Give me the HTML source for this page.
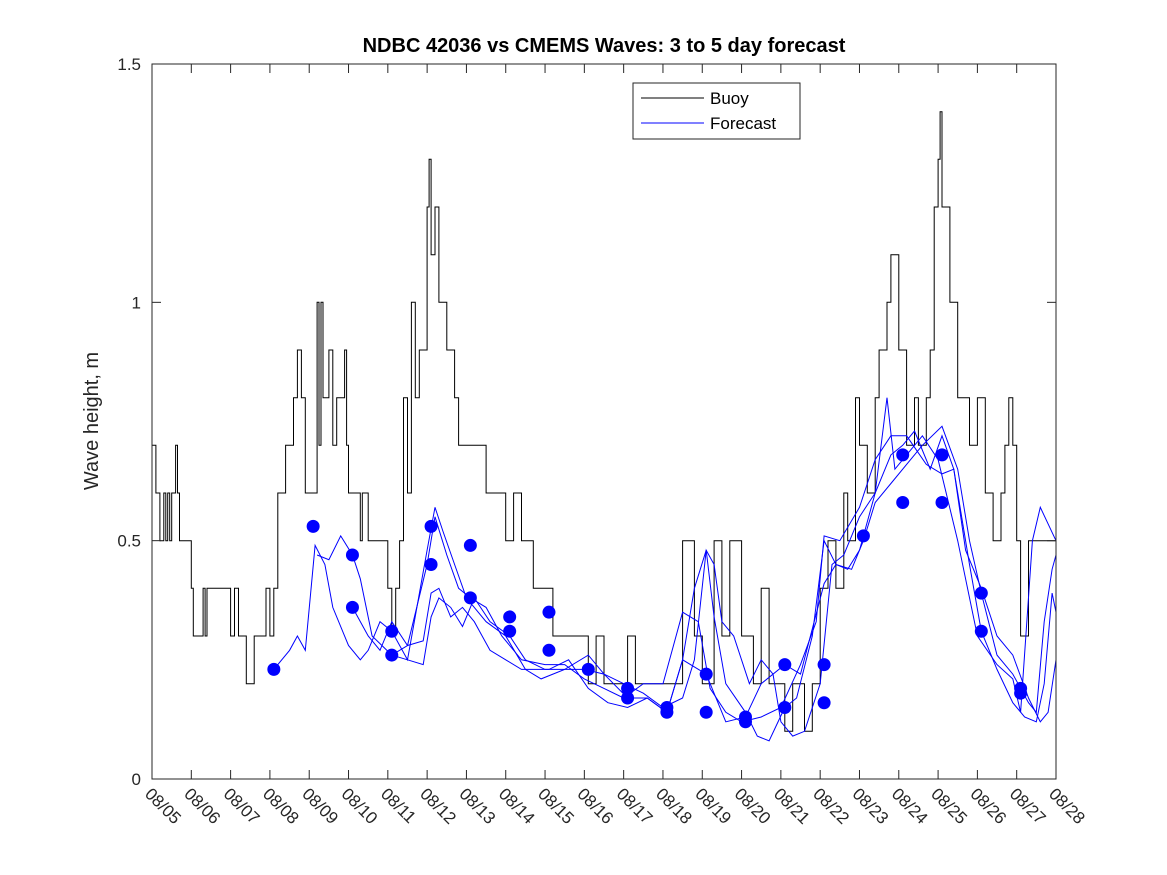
<!DOCTYPE html>
<html><head><meta charset="utf-8"><style>
body{margin:0;background:#fff;}
svg{display:block;font-family:"Liberation Sans",sans-serif;}
</style></head><body>
<svg id="c" width="1167" height="875"></svg>
<script>
const xTickLabels=["08/05","08/06","08/07","08/08","08/09","08/10","08/11","08/12","08/13","08/14","08/15","08/16","08/17","08/18","08/19","08/20","08/21","08/22","08/23","08/24","08/25","08/26","08/27","08/28"];
const yTicks=[0,0.5,1,1.5];
const yTickLabels=["0","0.5","1","1.5"];
const buoyDays=[0,0.1,0.2,0.3,0.35,0.4,0.45,0.5,0.6,0.65,0.7,0.9,1.0,1.05,1.3,1.35,1.4,2.0,2.1,2.2,2.4,2.45,2.6,2.7,2.9,3.0,3.1,3.2,3.4,3.6,3.7,3.8,3.9,4.0,4.2,4.25,4.3,4.35,4.5,4.6,4.7,4.9,4.95,5.0,5.1,5.3,5.35,5.5,5.6,6.0,6.1,6.2,6.3,6.4,6.5,6.6,6.7,6.8,7.0,7.05,7.1,7.2,7.3,7.5,7.7,7.8,8.0,8.5,8.6,9.0,9.2,9.4,9.7,10.2,11.1,11.3,11.5,12.1,12.3,13.5,13.8,14.0,14.3,14.5,14.7,15.0,15.3,15.5,15.7,16.1,16.3,16.6,16.8,17.0,17.2,17.4,17.6,17.7,17.9,18.0,18.2,18.4,18.5,18.7,18.8,19.0,19.2,19.4,19.5,19.7,19.8,19.9,20.0,20.05,20.1,20.3,20.5,20.8,21.0,21.2,21.4,21.6,21.7,21.8,21.9,22.0,22.1,22.3,23.0];
const buoyVals=[0.7,0.6,0.5,0.6,0.5,0.6,0.5,0.6,0.7,0.6,0.5,0.5,0.4,0.3,0.4,0.3,0.4,0.3,0.4,0.3,0.2,0.2,0.3,0.3,0.4,0.3,0.4,0.6,0.7,0.8,0.9,0.8,0.6,0.6,1.0,0.7,1.0,0.8,0.9,0.7,0.8,0.9,0.7,0.6,0.6,0.5,0.6,0.5,0.5,0.4,0.3,0.4,0.5,0.8,0.6,1.0,0.8,0.9,1.2,1.3,1.1,1.2,1.0,0.9,0.8,0.7,0.7,0.6,0.6,0.5,0.6,0.5,0.4,0.3,0.2,0.3,0.2,0.3,0.2,0.5,0.3,0.2,0.5,0.3,0.5,0.3,0.2,0.4,0.2,0.1,0.2,0.1,0.2,0.4,0.5,0.4,0.6,0.5,0.8,0.7,0.6,0.8,0.9,1.0,1.1,0.9,0.7,0.8,0.7,0.8,0.9,1.2,1.3,1.4,1.2,1.0,0.8,0.7,0.8,0.6,0.5,0.6,0.7,0.8,0.7,0.5,0.3,0.5,0.5];
const fcA=[[3.1,.23],[3.5,.27],[3.7,.3],[3.9,.27],[4.15,.49],[4.4,.45],[4.6,.36],[5.0,.28],[5.3,.25],[5.5,.27],[5.8,.33],[6.1,.31],[6.5,.25],[7.0,.48],[7.2,.57],[7.4,.52],[7.7,.45],[8.0,.38],[8.5,.33],[9.0,.3],[9.5,.23],[9.9,.21],[10.5,.23],[11.0,.23],[11.5,.22],[12.0,.2],[12.5,.18],[13.0,.15],[13.5,.17],[13.8,.25],[14.1,.48],[14.3,.45],[14.5,.33],[14.8,.3],[15.2,.2],[15.5,.25],[15.8,.22],[16.0,.12],[16.3,.09],[16.6,.1],[17.0,.2],[17.3,.45],[17.6,.47],[18.0,.55],[18.4,.6],[18.7,.8],[18.9,.65],[19.2,.68],[19.6,.72],[20.0,.67],[20.5,.5],[21.0,.3],[21.5,.24],[21.9,.21],[22.1,.14],[22.4,.5],[22.6,.57],[23,.5]];
const fcB=[[5.1,.36],[5.5,.3],[5.8,.27],[6.1,.33],[6.5,.28],[6.9,.29],[7.1,.39],[7.3,.4],[7.6,.34],[7.9,.36],[8.2,.33],[8.6,.27],[9.0,.25],[9.4,.23],[10.1,.23],[10.6,.25],[11.1,.19],[11.6,.16],[12.1,.15],[12.6,.17],[13.1,.14],[13.5,.25],[13.8,.4],[14.1,.48],[14.3,.34],[14.6,.2],[15.1,.14],[15.4,.09],[15.7,.08],[16.1,.15],[16.4,.17],[16.8,.3],[17.1,.5],[17.4,.45],[17.7,.44],[18.0,.48],[18.4,.6],[18.8,.68],[19.1,.7],[19.4,.73],[19.8,.65],[20.1,.72],[20.4,.65],[20.8,.45],[21.1,.31],[21.5,.23],[21.9,.16],[22.2,.13],[22.5,.12],[22.7,.2],[22.9,.39],[23,.35]];
const fcC=[[4.2,.47],[4.5,.46],[4.8,.51],[5.1,.47],[5.3,.42],[5.6,.3],[6.1,.26],[6.5,.25],[6.9,.24],[7.1,.34],[7.3,.38],[7.6,.36],[7.9,.32],[8.2,.38],[8.6,.33],[9.1,.3],[9.5,.25],[10.0,.23],[10.5,.23],[11.1,.26],[11.5,.22],[12.1,.17],[12.6,.17],[13.1,.14],[13.5,.25],[14.1,.22],[14.6,.12],[15.1,.13],[15.5,.2],[16.1,.24],[16.5,.22],[17.1,.41],[17.4,.45],[17.8,.44],[18.1,.5],[18.4,.58],[18.8,.62],[19.2,.66],[19.6,.7],[20.1,.74],[20.5,.65],[20.8,.5],[21.1,.39],[21.5,.26],[21.9,.22],[22.3,.16],[22.5,.14],[22.7,.33],[22.9,.44],[23,.47]];
const fcD=[[6.1,.26],[6.5,.28],[7.0,.45],[7.2,.55],[7.5,.47],[7.8,.4],[8.1,.38],[8.5,.36],[8.9,.3],[9.4,.25],[10.0,.24],[10.5,.24],[11.0,.21],[11.5,.19],[12.0,.17],[12.5,.2],[13.0,.2],[13.5,.35],[13.9,.33],[14.2,.19],[14.6,.14],[15.0,.12],[15.5,.13],[16.0,.15],[16.5,.24],[16.9,.33],[17.1,.51],[17.5,.5],[18.0,.57],[18.4,.67],[18.8,.72],[19.2,.72],[19.7,.66],[20.1,.64],[20.4,.65],[20.7,.48],[21.1,.4],[21.5,.3],[21.9,.26],[22.3,.17],[22.6,.12],[22.8,.14],[23,.25]];
const dotDays=[3.1,4.1,5.1,5.1,6.1,6.1,7.1,7.1,8.1,8.1,9.1,9.1,10.1,10.1,11.1,12.1,12.1,13.1,13.1,14.1,14.1,15.1,15.1,16.1,16.1,17.1,17.1,18.1,19.1,19.1,20.1,20.1,21.1,21.1,22.1,22.1];
const dotVals=[.23,.53,.47,.36,.31,.26,.53,.45,.49,.38,.34,.31,.35,.27,.23,.19,.17,.15,.14,.22,.14,.13,.12,.24,.15,.24,.16,.51,.68,.58,.68,.58,.39,.31,.19,.18];

const L=152,R=1056,T=64,B=779;
const xs=d=>L+(R-L)*d/23;
const ys=v=>B-(B-T)*v/1.5;
const svg=document.getElementById('c');
const NS='http://www.w3.org/2000/svg';
function mk(tag,at,parent){const e=document.createElementNS(NS,tag);for(const k in at)e.setAttribute(k,at[k]);(parent||svg).appendChild(e);return e;}

// buoy step line
let d='';
buoyDays.forEach((x,i)=>{d+=(i?' H'+xs(x).toFixed(1)+' V':'M'+xs(x).toFixed(1)+' ')+ys(buoyVals[i]).toFixed(1);});
d+=' H'+R;
const bl=mk('path',{d:d,fill:'none',stroke:'#000','stroke-width':1});



[fcA,fcB,fcC,fcD].forEach((s,i)=>{
  const p=mk('polyline',{points:s.map(q=>xs(q[0]).toFixed(1)+','+ys(q[1]).toFixed(1)).join(' '),fill:'none',stroke:'#0000ff','stroke-width':1});
  
  
});
dotDays.forEach((x,i)=>{
  const c=mk('circle',{cx:xs(x),cy:ys(dotVals[i]),r:6.5,fill:'#0000ff'});
  
  
});

// axes box
const ax=mk('rect',{x:L,y:T,width:R-L,height:B-T,fill:'none',stroke:'#262626','stroke-width':1});


xTickLabels.forEach((t,i)=>{
  const x=xs(i);
  mk('line',{x1:x,y1:B,x2:x,y2:B-9,stroke:'#262626'});
  mk('line',{x1:x,y1:T,x2:x,y2:T+9,stroke:'#262626'});
  const tx=mk('text',{x:x-8,y:B+16,'font-size':17,fill:'#262626',transform:'rotate(45 '+(x-8)+' '+(B+16)+')'});
  tx.textContent=t;
  
  
});
yTicks.forEach((v,i)=>{
  const y=ys(v);
  mk('line',{x1:L,y1:y,x2:L+9,y2:y,stroke:'#262626'});
  mk('line',{x1:R,y1:y,x2:R-9,y2:y,stroke:'#262626'});
  const tx=mk('text',{x:141,y:y+6,'font-size':17,fill:'#262626','text-anchor':'end'});
  tx.textContent=yTickLabels[i];
  
  
});
const ttl=mk('text',{x:604,y:52,'font-size':20,'font-weight':'bold','text-anchor':'middle',fill:'#000'});
ttl.textContent='NDBC 42036 vs CMEMS Waves: 3 to 5 day forecast';


const yl=mk('text',{x:98,y:421,'font-size':20,'text-anchor':'middle',fill:'#262626',transform:'rotate(-90 98 421)'});
yl.textContent='Wave height, m';



// legend
const lg=mk('g',{});


mk('rect',{x:633,y:83,width:167,height:56,fill:'#fff',stroke:'#262626'},lg);
mk('line',{x1:641,y1:98,x2:704,y2:98,stroke:'#000'},lg);
mk('line',{x1:641,y1:123,x2:704,y2:123,stroke:'#0000ff'},lg);
const t1=mk('text',{x:710,y:104,'font-size':17,fill:'#000'},lg);t1.textContent='Buoy';


const t2=mk('text',{x:710,y:129,'font-size':17,fill:'#000'},lg);t2.textContent='Forecast';


</script>
</body></html>
